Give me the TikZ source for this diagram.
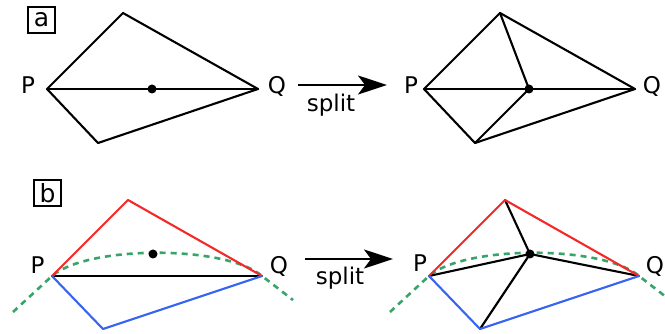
\documentclass[tikz,border=0pt]{standalone}
\usepackage{fontspec}
\setmainfont{DejaVu Sans}
\usetikzlibrary{arrows.meta,calc}
\definecolor{myred}{RGB}{245,40,40}
\definecolor{myblue}{RGB}{55,100,240}
\definecolor{mygreen}{RGB}{55,165,105}
\begin{document}
\begin{tikzpicture}[x=1pt,y=-1pt,
  font=\fontsize{23}{27}\selectfont,
  edge/.style={line width=2.1pt,line join=round,line cap=round},
  redge/.style={edge,draw=myred},
  bedge/.style={edge,draw=myblue},
  curve/.style={draw=mygreen,line width=2.6pt,dash pattern=on 6pt off 5pt},
  dot/.style={circle,fill=black,inner sep=0pt,minimum size=9pt},
  lab/.style={anchor=base,inner sep=0pt},
  tag/.style={draw,line width=1.2pt,minimum width=27pt,minimum height=26pt,inner sep=0pt,font=\fontsize{25}{28}\selectfont},
  arr/.style={line width=2.2pt,-{Stealth[length=29pt,width=19pt,inset=7pt]}}]
\useasboundingbox (0,0) rectangle (665,334);
\begin{scope}
\clip (0,0) rectangle (665,334);
% ---------- panel a ----------
\node[tag] (taga) at (41.5,20) {a};
\coordinate (aT) at (123,13);
\coordinate (aP) at (47,89);
\coordinate (aQ) at (258,89);
\coordinate (aB) at (98,143);
\coordinate (aM) at (152,89);
\draw[edge] (aP) -- (aT) -- (aQ) -- (aB) -- cycle;
\draw[edge] (aP) -- (aQ);
\node[dot] (aMd) at (aM) {};
\node[lab] (aPl) at (28,94) {P};
\node[lab] (aQl) at (277,94) {Q};
\coordinate (aA1) at (298,85);
\coordinate (aA2) at (387,85);
\draw[arr] (aA1) -- (aA2);
\node[lab] (asplit) at (331,112) {split};
% right
\coordinate (cT) at (500,13);
\coordinate (cP) at (424,89);
\coordinate (cQ) at (635,89);
\coordinate (cB) at (475,143);
\coordinate (cM) at (529,89);
\draw[edge] (cP) -- (cT) -- (cQ) -- (cB) -- cycle;
\draw[edge] (cP) -- (cQ);
\draw[edge] (cT) -- (cM) -- (cB);
\node[dot] (cMd) at (cM) {};
\node[lab] (cPl) at (411,94) {P};
\node[lab] (cQl) at (652,94) {Q};
% ---------- panel b ----------
\node[tag] (tagb) at (47.5,193) {b};
\coordinate (bT) at (128,200);
\coordinate (bP) at (52,276);
\coordinate (bQ) at (262,276);
\coordinate (bB) at (103,329);
\coordinate (bM) at (153,254);
\coordinate (bS) at (13,312);
\coordinate (bE) at (293,300);
\draw[edge] (bP) -- (bQ);
\draw[curve] (bS) -- (bP) .. controls ($(bP)+(36,-31)$) and ($(bQ)+(-36,-31)$) .. (bQ) -- (bE);
\draw[redge] (bP) -- (bT) -- (bQ);
\draw[bedge] (bP) -- (bB) -- (bQ);
\node[dot] (bMd) at (bM) {};
\node[lab] (bPl) at (37.5,273) {P};
\node[lab] (bQl) at (279,273) {Q};
\coordinate (bA1) at (305,259);
\coordinate (bA2) at (393,259);
\draw[arr] (bA1) -- (bA2);
\node[lab] (bsplit) at (340,285) {split};
% right
\coordinate (dT) at (505,200);
\coordinate (dP) at (429,276);
\coordinate (dQ) at (639,276);
\coordinate (dB) at (480,329);
\coordinate (dM) at (530,254);
\coordinate (dS) at (390,312);
\coordinate (dE) at (670,300);
\draw[curve] (dS) -- (dP) .. controls ($(dP)+(36,-31)$) and ($(dQ)+(-36,-31)$) .. (dQ) -- (dE);
\draw[edge] (dT) -- (dM) -- (dB);
\draw[edge] (dP) -- (dM) -- (dQ);
\draw[redge] (dP) -- (dT) -- (dQ);
\draw[bedge] (dP) -- (dB) -- (dQ);
\node[dot] (dMd) at (dM) {};
\node[lab] (dPl) at (420,272) {P};
\node[lab] (dQl) at (655,273) {Q};
\end{scope}
\end{tikzpicture}
\end{document}
